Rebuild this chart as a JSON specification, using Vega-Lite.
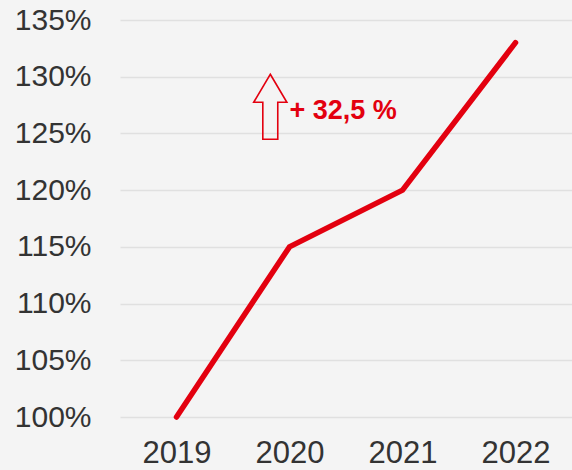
{
  "$schema": "https://vega.github.io/schema/vega-lite/v6.json",
  "autosize": {"type": "none"},
  "padding": {"left": 120, "top": 20, "right": 0, "bottom": 53},
  "width": 452,
  "height": 397,
  "background": "#f4f4f4",
  "config": {"view": {"stroke": null}},
  "datasets": {
    "series": [
      {"year": 2019, "value": 100},
      {"year": 2020, "value": 115},
      {"year": 2021, "value": 120},
      {"year": 2022, "value": 133}
    ],
    "note": [
      {"year": 2020.0, "value": 127, "label": "+ 32,5 %", "ax": 2019.83, "ay": 127.35}
    ]
  },
  "layer": [
    {
      "data": {"name": "series"},
      "mark": {"type": "line", "color": "#e3000f", "strokeWidth": 5.5, "strokeCap": "round", "strokeJoin": "miter"},
      "encoding": {
        "x": {"field": "year", "type": "quantitative",
          "scale": {"domain": [2018.5, 2022.5], "nice": false, "zero": false},
          "axis": {"values": [2019, 2020, 2021, 2022], "format": "d", "title": null, "grid": false, "domain": false, "ticks": false,
            "labelFont": "Liberation Sans", "labelFontSize": 31, "labelColor": "#333333", "labelPadding": 21}},
        "y": {"field": "value", "type": "quantitative",
          "scale": {"domain": [100, 135], "nice": false, "zero": false},
          "axis": {"values": [100, 105, 110, 115, 120, 125, 130, 135], "labelExpr": "datum.value + '%'", "title": null,
            "domain": false, "ticks": false, "grid": true, "gridColor": "#e0e0e0", "gridWidth": 1.5,
            "labelFont": "Liberation Sans", "labelFontSize": 30, "labelColor": "#333333", "labelPadding": 29}}
      }
    },
    {
      "data": {"name": "note"},
      "mark": {"type": "point", "filled": false, "stroke": "#e3000f", "strokeWidth": 1.6, "opacity": 1,
        "shape": "M0,-1 L0.51,-0.14 L0.23,-0.14 L0.23,1 L-0.23,1 L-0.23,-0.14 L-0.51,-0.14 Z", "size": 4225},
      "encoding": {
        "x": {"field": "ax", "type": "quantitative"},
        "y": {"field": "ay", "type": "quantitative"}
      }
    },
    {
      "data": {"name": "note"},
      "mark": {"type": "text", "align": "left", "baseline": "middle", "font": "Liberation Sans", "fontWeight": "bold", "fontSize": 27, "color": "#e3000f"},
      "encoding": {
        "x": {"field": "year", "type": "quantitative"},
        "y": {"field": "value", "type": "quantitative"},
        "text": {"field": "label"}
      }
    }
  ]
}
